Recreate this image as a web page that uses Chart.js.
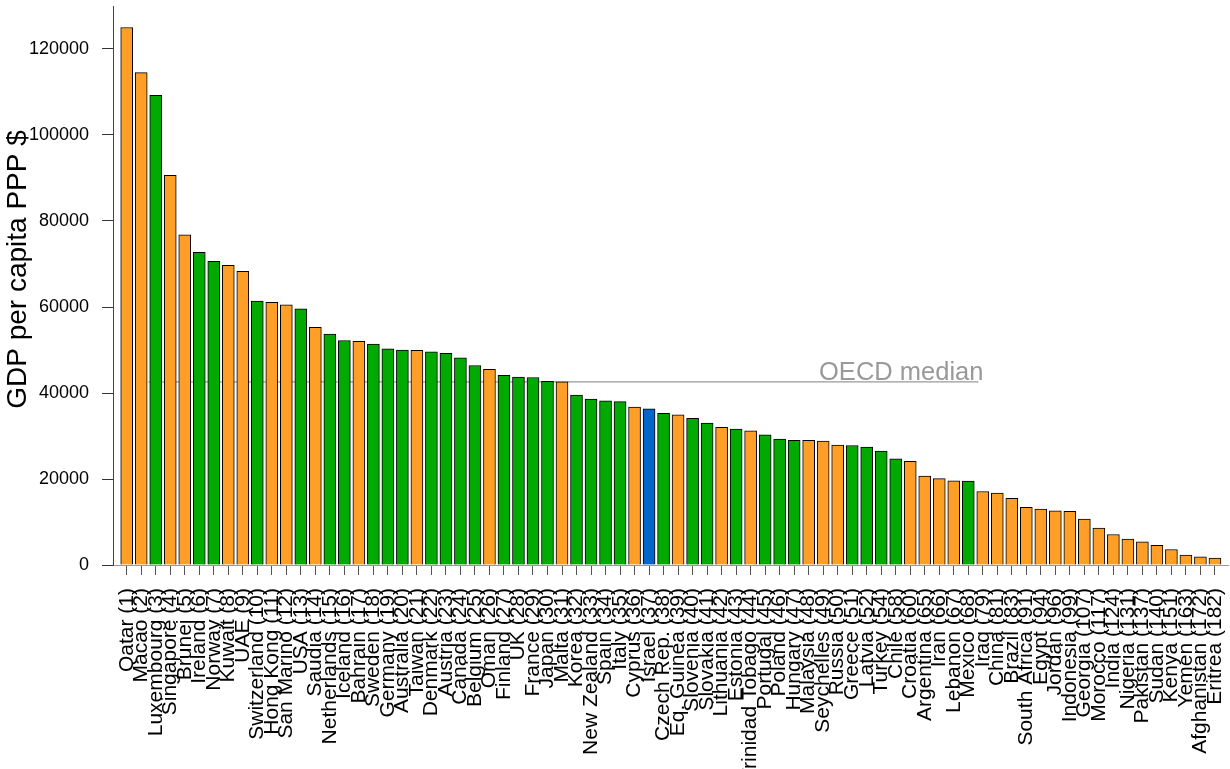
<!DOCTYPE html>
<html>
<head>
<meta charset="utf-8">
<title>GDP per capita PPP</title>
<script src="https://cdn.jsdelivr.net/npm/chart.js@4"></script>
<style>
  html, body { margin: 0; padding: 0; background: #fff; }
  #wrap { width: 1230px; height: 769px; }
</style>
</head>
<body>
<div id="wrap"><canvas id="gdpChart" width="1230" height="769"></canvas></div>
<script>
// Countries, sorted by GDP per capita (PPP $), with their world rank
const countries = [
  "Qatar", "Macao", "Luxembourg", "Singapore", "Brunei", "Ireland", "Norway", "Kuwait", "UAE",
  "Switzerland", "Hong Kong", "San Marino", "USA", "Saudia", "Netherlands", "Iceland", "Bahrain",
  "Sweden", "Germany", "Australia", "Taiwan", "Denmark", "Austria", "Canada", "Belgium", "Oman",
  "Finland", "UK", "France", "Japan", "Malta", "Korea", "New Zealand", "Spain", "Italy", "Cyprus",
  "Israel", "Czech Rep.", "Eq. Guinea", "Slovenia", "Slovakia", "Lithuania", "Estonia",
  "Trinidad Tobago", "Portugal", "Poland", "Hungary", "Malaysia", "Seychelles", "Russia", "Greece",
  "Latvia", "Turkey", "Chile", "Croatia", "Argentina", "Iran", "Lebanon", "Mexico", "Iraq", "China",
  "Brazil", "South Africa", "Egypt", "Jordan", "Indonesia", "Georgia", "Morocco", "India", "Nigeria",
  "Pakistan", "Sudan", "Kenya", "Yemen", "Afghanistan", "Eritrea"
];
const ranks = [
  1, 2, 3, 4, 5, 6, 7, 8, 9, 10, 11, 12, 13, 14, 15, 16, 17, 18, 19, 20, 21, 22, 23, 24, 25, 26,
  27, 28, 29, 30, 31, 32, 33, 34, 35, 36, 37, 38, 39, 40, 41, 42, 43, 44, 45, 46, 47, 48, 49, 50,
  51, 52, 54, 58, 60, 65, 66, 67, 68, 79, 81, 83, 91, 94, 96, 99, 107, 117, 124, 131, 137, 140,
  151, 163, 172, 182
];
const gdpValues = [
  125000, 114500, 109200, 90600, 76800, 72700, 70600, 69700, 68300,
  61400, 61100, 60500, 59600, 55300, 53700, 52200, 52000,
  51400, 50300, 50000, 49900, 49600, 49200, 48200, 46400, 45500,
  44100, 43700, 43600, 42700, 42600, 39500, 38600, 38200, 38000, 36700,
  36300, 35300, 34900, 34100, 33000, 32000, 31600,
  31200, 30300, 29300, 29000, 29000, 28800, 27900, 27800,
  27400, 26500, 24700, 24100, 20700, 20100, 19600, 19500, 17100, 16700,
  15500, 13400, 13000, 12600, 12500, 10700, 8600, 7100, 6000,
  5400, 4600, 3600, 2300, 1900, 1600
];
// o = non-OECD, g = OECD member, b = highlighted (Israel)
const groups = [
  "o", "o", "g", "o", "o", "g", "g", "o", "o",
  "g", "o", "o", "g", "o", "g", "g", "o",
  "g", "g", "g", "o", "g", "g", "g", "g", "o",
  "g", "g", "g", "g", "o", "g", "g", "g", "g", "o",
  "b", "g", "o", "g", "g", "o", "g",
  "o", "g", "g", "g", "o", "o", "o", "g",
  "g", "g", "g", "o", "o", "o", "o", "g", "o", "o",
  "o", "o", "o", "o", "o", "o", "o", "o", "o",
  "o", "o", "o", "o", "o", "o"
];
const yTicks = [0, 20000, 40000, 60000, 80000, 100000, 120000];
const oecdMedian = 42600;
const medianFrom = 1.5;   // category positions where the median line starts / ends
const medianTo = 58.7;
const medianText = "OECD median";
const yTitle = "GDP per capita PPP $";

document.addEventListener("DOMContentLoaded", () => {
  const groupColors = { o: "#ff9f27", g: "#00aa00", b: "#0066cc" };
  const tickLabels = countries.map((c, i) => `${c} (${ranks[i]})`);
  const fontFamily = '"Liberation Sans", Arial, sans-serif';

  Chart.defaults.font.family = fontFamily;
  Chart.defaults.color = "#000";

  // gray caption on the right end of the median line + y axis title
  const extraText = {
    id: "extraText",
    afterDatasetsDraw(chart) {
      const { ctx, scales: { x, y }, chartArea } = chart;
      ctx.save();
      ctx.font = "25.5px " + fontFamily;
      ctx.fillStyle = "#999";
      ctx.textAlign = "right";
      ctx.textBaseline = "alphabetic";
      ctx.fillText(medianText, x.getPixelForValue(medianTo) + 5, y.getPixelForValue(oecdMedian) - 2);

      // axis title, sitting a bit above the middle of the axis like the original
      ctx.font = "28px " + fontFamily;
      ctx.fillStyle = "#000";
      ctx.textAlign = "center";
      ctx.textBaseline = "middle";
      ctx.translate(18, (chartArea.top + chartArea.bottom) / 2 - 16);
      ctx.rotate(-Math.PI / 2);
      ctx.fillText(yTitle, 0, 0);
      ctx.restore();
    }
  };

  const ctx = document.getElementById("gdpChart").getContext("2d");
  new Chart(ctx, {
    type: "bar",
    data: {
      datasets: [
        {
          type: "bar",
          data: gdpValues.map((v, i) => ({ x: i, y: v })),
          backgroundColor: groups.map(g => groupColors[g]),
          borderColor: "#000",
          borderWidth: 1,
          borderSkipped: "bottom",
          barThickness: 12,
          order: 1
        },
        {
          type: "line",
          data: [{ x: medianFrom, y: oecdMedian }, { x: medianTo, y: oecdMedian }],
          borderColor: "#999",
          borderWidth: 1.2,
          pointRadius: 0,
          order: 2
        }
      ]
    },
    options: {
      responsive: false,
      animation: false,
      layout: { padding: { top: 6, right: 2, left: 0, bottom: 0 } },
      plugins: { legend: { display: false }, tooltip: { enabled: false } },
      scales: {
        x: {
          type: "linear",
          min: -0.945,
          max: 75.9,
          offset: false,
          afterBuildTicks: scale => { scale.ticks = countries.map((c, i) => ({ value: i })); },
          afterFit: scale => {
            scale.height = 204;
            scale.paddingLeft = 0;
            scale.paddingRight = 0;
          },
          ticks: {
            autoSkip: false,
            minRotation: 90,
            maxRotation: 90,
            padding: 13,
            font: { size: 21 },
            callback: (value, index) => tickLabels[index]
          },
          grid: { drawOnChartArea: false, offset: false, tickLength: 10, color: "#555" },
          border: { color: "#999" }
        },
        y: {
          min: 0,
          max: 130000,
          afterBuildTicks: scale => { scale.ticks = yTicks.map(v => ({ value: v })); },
          afterFit: scale => {
            scale.width = 113;
            scale.paddingTop = 0;
            scale.paddingBottom = 0;
          },
          ticks: { padding: 13, font: { size: 18 }, callback: value => String(value) },
          grid: { drawOnChartArea: false, tickLength: 11, color: "#333" },
          border: { color: "#444" }
        }
      }
    },
    plugins: [extraText]
  });
});
</script>
</body>
</html>
